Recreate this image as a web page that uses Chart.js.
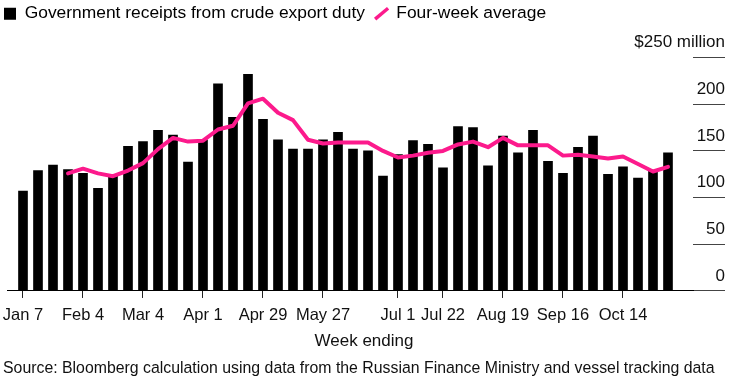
<!DOCTYPE html>
<html lang="en">
<head>
  <meta charset="UTF-8">
  <title>Crude export duty receipts</title>
  <script src="https://cdn.jsdelivr.net/npm/chart.js"></script>
  <style>
    body { margin: 0; background: #fff; }
    .chart-box { width: 730px; height: 381px; }
  </style>
</head>
<body>
  <div class="chart-box">
    <canvas id="grafico"></canvas>
  </div>

  <script>
    // weeks (week ending), Jan 7 .. Nov 4
    const weeks = [
      'Jan 7', 'Jan 14', 'Jan 21', 'Jan 28', 'Feb 4', 'Feb 11', 'Feb 18', 'Feb 25',
      'Mar 4', 'Mar 11', 'Mar 18', 'Mar 25', 'Apr 1', 'Apr 8', 'Apr 15', 'Apr 22',
      'Apr 29', 'May 6', 'May 13', 'May 20', 'May 27', 'Jun 3', 'Jun 10', 'Jun 17',
      'Jun 24', 'Jul 1', 'Jul 8', 'Jul 15', 'Jul 22', 'Jul 29', 'Aug 5', 'Aug 12',
      'Aug 19', 'Aug 26', 'Sep 2', 'Sep 9', 'Sep 16', 'Sep 23', 'Sep 30', 'Oct 7',
      'Oct 14', 'Oct 21', 'Oct 28', 'Nov 4'
    ];

    // $ million
    const receipts = [
      107, 129, 135, 130, 126, 110, 124, 155, 160, 172, 167, 138,
      162, 222, 186, 232, 184, 162, 152, 152, 162, 170, 152, 150,
      123, 146, 161, 157, 132, 176, 175, 134, 166, 148, 172, 139,
      126, 154, 166, 125, 133, 121, 129, 148
    ];

    const fourWeekAvg = [
      null, null, null, 126, 131, 126, 123, 129, 137, 152, 164, 160,
      161, 173, 177, 201, 206, 191, 183, 162, 158, 159, 159, 159,
      150, 143, 145, 148, 150, 157, 160, 154, 164, 156, 156, 156,
      145, 146, 144, 142, 144, 136, 128, 133
    ];

    const tickWeeks = ['Jan 7', 'Feb 4', 'Mar 4', 'Apr 1', 'Apr 29', 'May 27', 'Jul 1', 'Jul 22', 'Aug 19', 'Sep 16', 'Oct 14'];
    const yTicks = [0, 50, 100, 150, 200, 250];

    const legendLabels = ['Government receipts from crude export duty', 'Four-week average'];
    const xTitle = 'Week ending';
    const fonte = 'Source: Bloomberg calculation using data from the Russian Finance Ministry and vessel tracking data';

    const rosa = '#fc1a8c';
    const texto = '#111';

    Chart.defaults.font.family = '"Liberation Sans", Arial, sans-serif';
    Chart.defaults.color = texto;

    const ctx = document.getElementById('grafico').getContext('2d');

    const grafico = new Chart(ctx, {
      type: 'bar',
      data: {
        datasets: [
          {
            label: legendLabels[0],
            data: receipts.map((v, i) => ({ x: i, y: v })),
            backgroundColor: '#000',
            barThickness: 9,
            order: 1
          },
          {
            type: 'line',
            label: legendLabels[1],
            data: fourWeekAvg.map((v, i) => ({ x: i, y: v })).filter(p => p.y !== null),
            borderColor: rosa,
            borderWidth: 4,
            borderJoinStyle: 'round',
            borderCapStyle: 'round',
            pointRadius: 0,
            tension: 0,
            order: 0
          }
        ]
      },
      options: {
        responsive: true,
        maintainAspectRatio: false,
        animation: false,
        layout: { padding: { left: 3, right: 5, top: 4, bottom: 0 } },
        scales: {
          x: {
            type: 'linear',
            min: -16 / 15,
            max: 44.6667,
            offset: false,
            grid: { drawOnChartArea: false, drawTicks: true, tickLength: 7, color: '#222', offset: false },
            border: { display: true, color: '#000', width: 1 },
            afterBuildTicks: (scale) => {
              scale.ticks = tickWeeks.map(w => ({ value: weeks.indexOf(w) }));
            },
            afterFit: (scale) => {
              scale.paddingLeft = 7;
              scale.paddingRight = 0;
            },
            ticks: {
              autoSkip: false,
              maxRotation: 0,
              padding: 7.4,
              color: texto,
              font: { size: 16.5 },
              callback: (v) => weeks[v]
            }
          },
          y: {
            position: 'right',
            min: 0,
            max: 277,
            grid: { drawOnChartArea: false, drawTicks: true, tickLength: 32, color: '#444', lineWidth: 1 },
            border: { display: false },
            afterBuildTicks: (scale) => {
              scale.ticks = yTicks.map(v => ({ value: v }));
            },
            afterFit: (scale) => {
              scale.width = 32;
              scale.paddingTop = 0;
              scale.paddingBottom = 0;
            },
            ticks: {
              mirror: true,
              padding: 32,
              labelOffset: -15,
              autoSkip: false,
              color: texto,
              font: { size: 17 },
              callback: (v) => v === 250 ? '$250 million' : v
            }
          }
        },
        plugins: {
          tooltip: { enabled: false },
          legend: {
            position: 'top',
            align: 'start',
            labels: {
              usePointStyle: true,
              boxWidth: 12,
              boxHeight: 12,
              padding: 1,
              color: texto,
              font: { size: 17.4 },
              generateLabels: (chart) => {
                const ds = chart.data.datasets;
                return [
                  { text: ds[0].label + '  ', fillStyle: '#000', strokeStyle: '#000', lineWidth: 0, pointStyle: 'rect', datasetIndex: 0 },
                  { text: ds[1].label, fillStyle: rosa, strokeStyle: rosa, lineWidth: 3.5, lineCap: 'butt', pointStyle: 'line', rotation: -40, datasetIndex: 1 }
                ];
              }
            }
          },
          subtitle: {
            display: true,
            position: 'bottom',
            text: xTitle,
            color: texto,
            font: { size: 17, lineHeight: 1 },
            padding: { top: 0, bottom: 10 }
          },
          title: {
            display: true,
            position: 'bottom',
            align: 'start',
            text: fonte,
            color: texto,
            font: { size: 15.85, weight: 'normal' },
            padding: { top: 0, bottom: 2.4 }
          }
        }
      }
    });
  </script>
</body>
</html>
